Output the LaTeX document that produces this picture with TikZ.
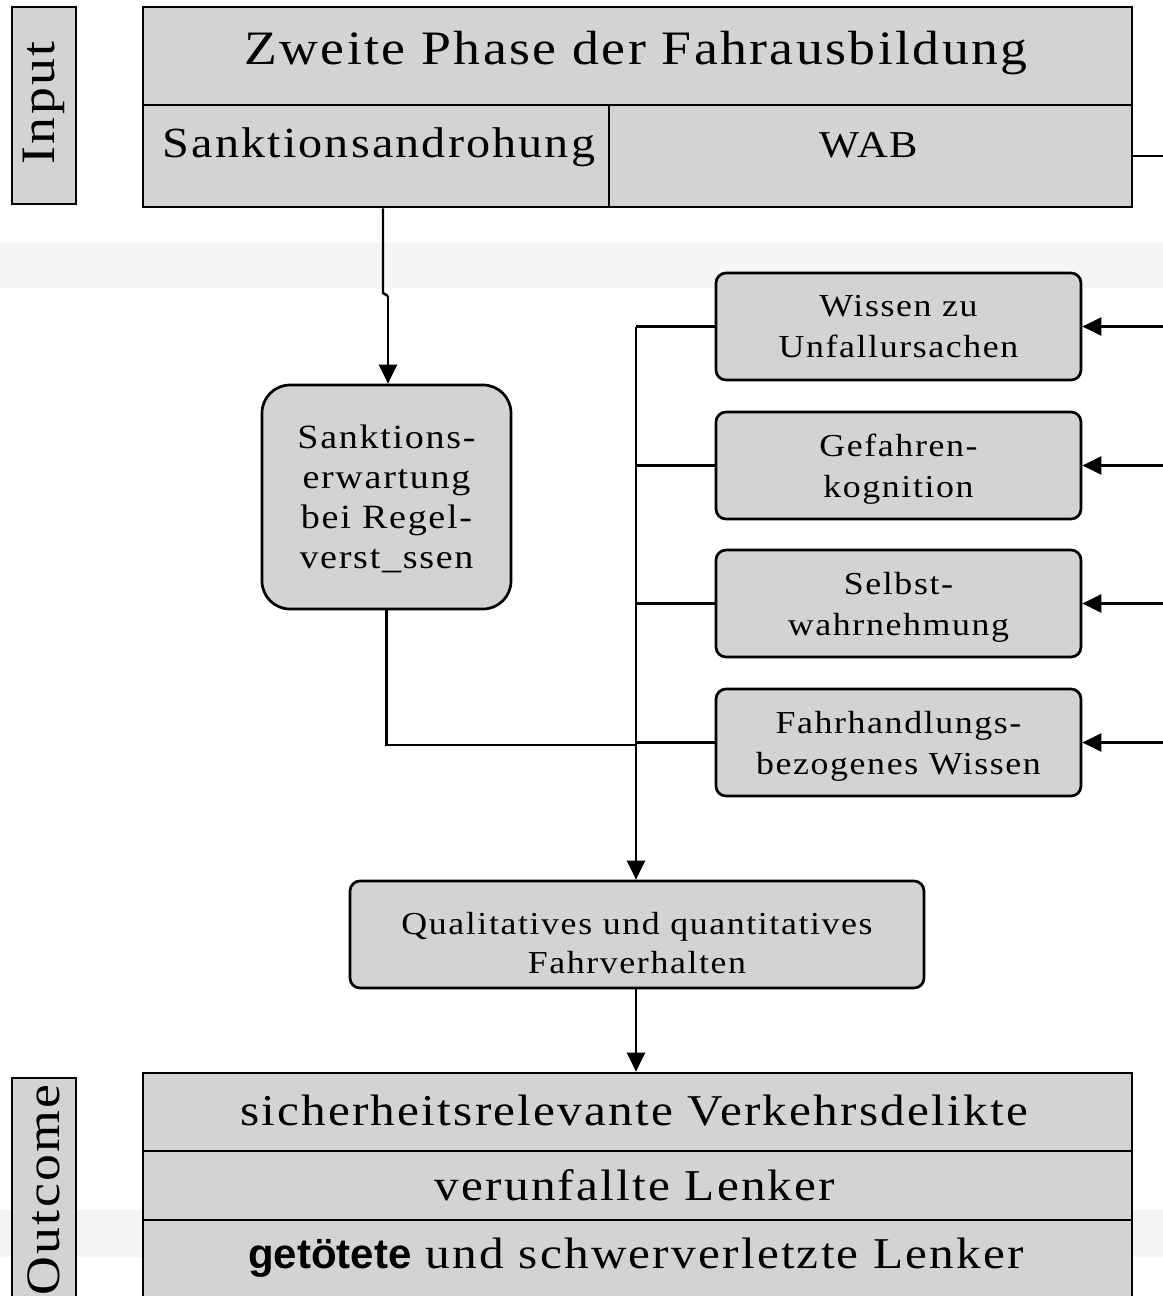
\documentclass[tikz,border=0pt]{standalone}
\usepackage{fontspec}
\setmainfont{Liberation Serif}[FakeStretch=1.12,LetterSpace=5]
\newfontfamily\sansb{Liberation Sans}
\usetikzlibrary{arrows.meta,calc}
\definecolor{boxgray}{RGB}{211,211,211}
\definecolor{bandgray}{RGB}{245,245,245}
\newcommand\fsz[2]{\fontsize{#1bp}{#2bp}\selectfont}
\begin{document}
\begin{tikzpicture}[x=1bp,y=-1bp,
  cell/.style={draw=black, fill=boxgray, line width=2.7bp, inner sep=0pt},
  rbox/.style={cell, rounded corners=10bp, align=center, font=\fsz{32}{41}},
  lbl/.style={inner sep=0pt, anchor=base},
  conn/.style={draw=black, line width=2.4bp},
  arr/.style={conn, -{Triangle[length=19bp,width=18bp]}}]
\useasboundingbox (0,0) rectangle (1163,1296);
\clip (0,0) rectangle (1163,1296);
\fill[white] (0,0) rectangle (1163,1296);
% light bands
\fill[bandgray] (0,243) rectangle (1163,288);
\fill[bandgray] (0,1210) rectangle (1163,1257);

% input label
\node[cell, minimum width=64bp, minimum height=197bp] (inlab) at (44,105.5) {};
\node[rotate=90, inner sep=0pt, font=\fsz{48}{58}] (intext) at (44,103) {Input};

% top block
\node[cell, minimum width=989bp, minimum height=98bp] (title) at (637.5,56) {};
\node[cell, minimum width=466bp, minimum height=102bp] (sandro) at (376,156) {};
\node[cell, minimum width=523bp, minimum height=102bp] (wab) at (870.5,156) {};
\node[lbl, font=\fsz{48}{58}] (title-t) at (636,64) {Zweite Phase der Fahrausbildung};
\node[lbl, font=\fsz{43}{52}] (sandro-t) at (379,157) {Sanktionsandrohung};
\node[lbl, font=\fsz{38}{46}] (wab-t) at (869,157) {WAB};

% middle boxes
\node[cell, rounded corners=28bp, minimum width=249bp, minimum height=224bp,
      align=center, font=\fsz{34}{40}] (sank) at (386.5,497)
  {Sanktions-\\erwartung\\bei Regel-\\\smash{verst\_ssen}};
\node[rbox, minimum width=365bp, minimum height=107bp] (k1) at (898.5,326.5)
  {Wissen zu\\Unfallursachen};
\node[rbox, minimum width=365bp, minimum height=107bp] (k2) at (898.5,465.5)
  {Gefahren-\\\smash{kognition}};
\node[rbox, minimum width=365bp, minimum height=107bp] (k3) at (898.5,603.5)
  {Selbst-\\\smash{wahrnehmung}};
\node[rbox, minimum width=365bp, minimum height=107bp] (k4) at (898.5,742.5)
  {Fahrhandlungs-\\\smash{bezogenes Wissen}};
\node[cell, rounded corners=10bp, minimum width=574bp, minimum height=107bp] (qual) at (637,934.5) {};
\node[inner sep=0pt, align=center, font=\fsz{32}{39}] (qual-t) at (637,943)
  {Qualitatives und quantitatives\\Fahrverhalten};

% outcome block
\node[cell, minimum width=64bp, minimum height=242bp] (outlab) at (44,1199) {};
\node[rotate=90, inner sep=0pt, font=\fsz{48}{58}] (outtext) at (44,1190) {Outcome};
\node[cell, minimum width=989bp, minimum height=78bp] (out1) at (637.5,1112) {};
\node[cell, minimum width=989bp, minimum height=69bp] (out2) at (637.5,1185.5) {};
\node[cell, minimum width=989bp, minimum height=100bp] (out3) at (637.5,1270) {};
\node[lbl, font=\fsz{44}{52}] (out1-t) at (634,1125) {sicherheitsrelevante Verkehrsdelikte};
\node[lbl, font=\fsz{44}{52}] (out2-t) at (635,1200) {verunfallte Lenker};
\node[lbl, font=\fsz{44}{52}] (out3-t) at (636,1268) {{\sansb\fsz{42}{50}\bfseries getötete} und schwerverletzte Lenker};

% coordinates
\coordinate (busx) at (636,0);
\coordinate (j1) at (383,293);
\coordinate (j2) at (388,296);
\coordinate (wabout) at (1163,156);
\coordinate (in1) at (1163,326.5);
\coordinate (in2) at (1163,465.5);
\coordinate (in3) at (1163,603.5);
\coordinate (in4) at (1163,742.5);
\coordinate (sj) at (636,745);

% connectors
\draw[conn] (sandro.south -| j1) -- (j1) -- (j2);
\draw[arr] (j2) -- (j2 |- sank.north);
\draw[conn] (wab.east) -- (wabout);
\draw[arr] (in1) -- (k1.east);
\draw[arr] (in2) -- (k2.east);
\draw[arr] (in3) -- (k3.east);
\draw[arr] (in4) -- (k4.east);
\draw[conn] (k1.west) -- (k1.west -| busx);
\draw[conn] (k2.west) -- (k2.west -| busx);
\draw[conn] (k3.west) -- (k3.west -| busx);
\draw[conn] (k4.west) -- (k4.west -| busx);
\draw[arr] (k1.west -| busx) -- (qual.north -| busx);
\draw[conn] (sank.south) |- (sj);
\draw[arr] (qual.south -| busx) -- (out1.north -| busx);
\end{tikzpicture}
\end{document}
